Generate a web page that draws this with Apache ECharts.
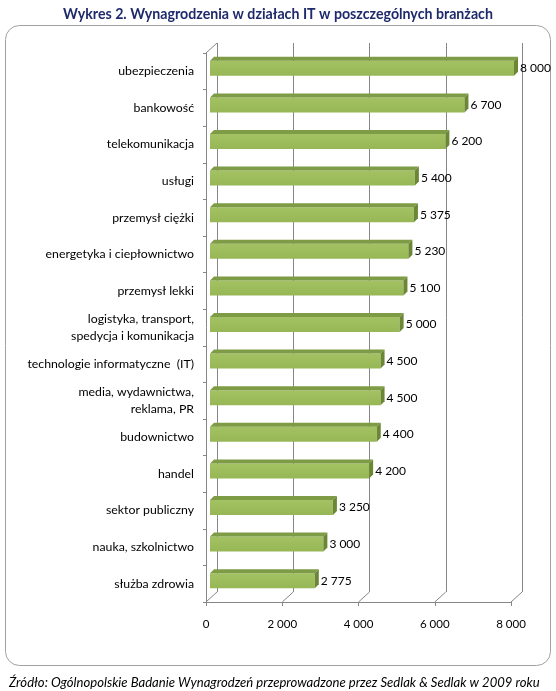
<!DOCTYPE html>
<html><head><meta charset="utf-8">
<script src="https://cdn.jsdelivr.net/npm/echarts@6/dist/echarts.min.js"></script>
<style>html,body{margin:0;padding:0;background:#fff;}#c{width:556px;height:691px;}</style>
</head><body><div id="c"></div>
<script>
const categories = ["ubezpieczenia","bankowość","telekomunikacja","usługi","przemysł ciężki","energetyka i ciepłownictwo","przemysł lekki","logistyka, transport,\nspedycja i komunikacja","technologie informatyczne  (IT)","media, wydawnictwa,\nreklama, PR","budownictwo","handel","sektor publiczny","nauka, szkolnictwo","służba zdrowia"];
const values = [8000,6700,6200,5400,5375,5230,5100,5000,4500,4500,4400,4200,3250,3000,2775];
const xTicks = [0,2000,4000,6000,8000];
const titleText = "Wykres 2. Wynagrodzenia w działach IT w poszczególnych branżach";
const sourceText = "Źródło: Ogólnopolskie Badanie Wynagrodzeń przeprowadzone przez Sedlak & Sedlak w 2009 roku";

const FONT = "Lato";
const fmt = v => String(v).replace(/\B(?=(\d{3})+(?!\d))/g, " ");
const DX = 11, DY = -10; // back wall offset
const chart = echarts.init(document.getElementById('c'));
chart.setOption({
  animation:false,
  textStyle:{fontFamily:FONT},
  title:[{text:titleText,left:'center',top:2,textStyle:{fontFamily:FONT,fontSize:14.2,fontWeight:'bold',color:'#1F2A6B'}},
         {text:sourceText,left:4,top:671,textStyle:{fontFamily:FONT,fontSize:13.1,fontWeight:'normal',fontStyle:'italic',color:'#000'}}],
  graphic:[{type:'rect',shape:{x:5.5,y:25.5,width:545,height:640,r:14},style:{fill:'none',stroke:'#A0A0A0',lineWidth:1},z:-10}],
  grid:[{left:206,width:305,top:53,height:549},{left:206+DX,width:305,top:53+DY,height:549}],
  xAxis:[{gridIndex:0,type:'value',min:0,max:8000,interval:2000,
          axisLine:{show:true,lineStyle:{color:'#868686'}},axisTick:{show:true,length:4,lineStyle:{color:'#868686'}},
          splitLine:{show:false},axisLabel:{formatter:fmt,fontSize:11.5,color:'#000',margin:16,fontFamily:FONT}},
         {gridIndex:1,type:'value',min:0,max:8000,interval:2000,axisLine:{show:false},axisTick:{show:false},axisLabel:{show:false},
          splitLine:{show:true,lineStyle:{color:'#868686'}}}],
  yAxis:[{gridIndex:0,type:'category',data:categories,inverse:true,
          axisLine:{show:true,lineStyle:{color:'#868686'}},axisTick:{show:true,length:3,lineStyle:{color:'#868686'}},
          axisLabel:{fontSize:12.3,color:'#000',margin:12,lineHeight:17,fontFamily:FONT}},
         {gridIndex:1,type:'category',data:categories,inverse:true,show:false}],
  series:[
    {type:'custom',xAxisIndex:0,yAxisIndex:0,data:xTicks.map(v=>[v]),z:1,silent:true,
     renderItem:(p,api)=>{
       const v=api.value(0); const hb=api.size([0,1])[1]/2;
       const b=api.coord([v,categories.length-1]); const yb=b[1]+hb;
       const ch=[{type:'line',shape:{x1:b[0],y1:yb,x2:b[0]+DX,y2:yb+DY},style:{stroke:'#868686',lineWidth:1}}];
       if(v===0){const t=api.coord([0,0]); const yt=t[1]-hb;
         ch.push({type:'line',shape:{x1:t[0],y1:yt,x2:t[0]+DX,y2:yt+DY},style:{stroke:'#868686',lineWidth:1}});}
       return {type:'group',children:ch};
     }},
    {type:'custom',xAxisIndex:0,yAxisIndex:0,data:values.map((v,i)=>[v,i]),z:5,
     renderItem:(p,api)=>{
       const v=api.value(0), i=api.value(1);
       const c0=api.coord([0,i]), c1=api.coord([v,i]);
       const bw=api.size([0,1])[1]*0.41;
       const cy=c0[1]-3;
       const x0=c0[0]+4, x1=c1[0]+3, yt=cy-bw/2, yb=cy+bw/2, d=4;
       return {type:'group',children:[
         {type:'rect',shape:{x:x0,y:yt,width:x1-x0,height:bw},style:{fill:new echarts.graphic.LinearGradient(0,0,0,1,[{offset:0,color:'#A3C263'},{offset:1,color:'#97B655'}])}},
         {type:'polygon',shape:{points:[[x0,yt],[x0+d,yt-d],[x1+d,yt-d],[x1,yt]]},style:{fill:'#7E9B45'}},
         {type:'polygon',shape:{points:[[x1,yt],[x1+d,yt-d],[x1+d,yb-d],[x1,yb]]},style:{fill:'#6B8736'}},
         {type:'text',style:{text:fmt(v),x:x1+d+2,y:cy,textVerticalAlign:'middle',fontSize:12,fontFamily:FONT,fill:'#000'}}
       ]};
     }}
  ]
});
</script></body></html>
